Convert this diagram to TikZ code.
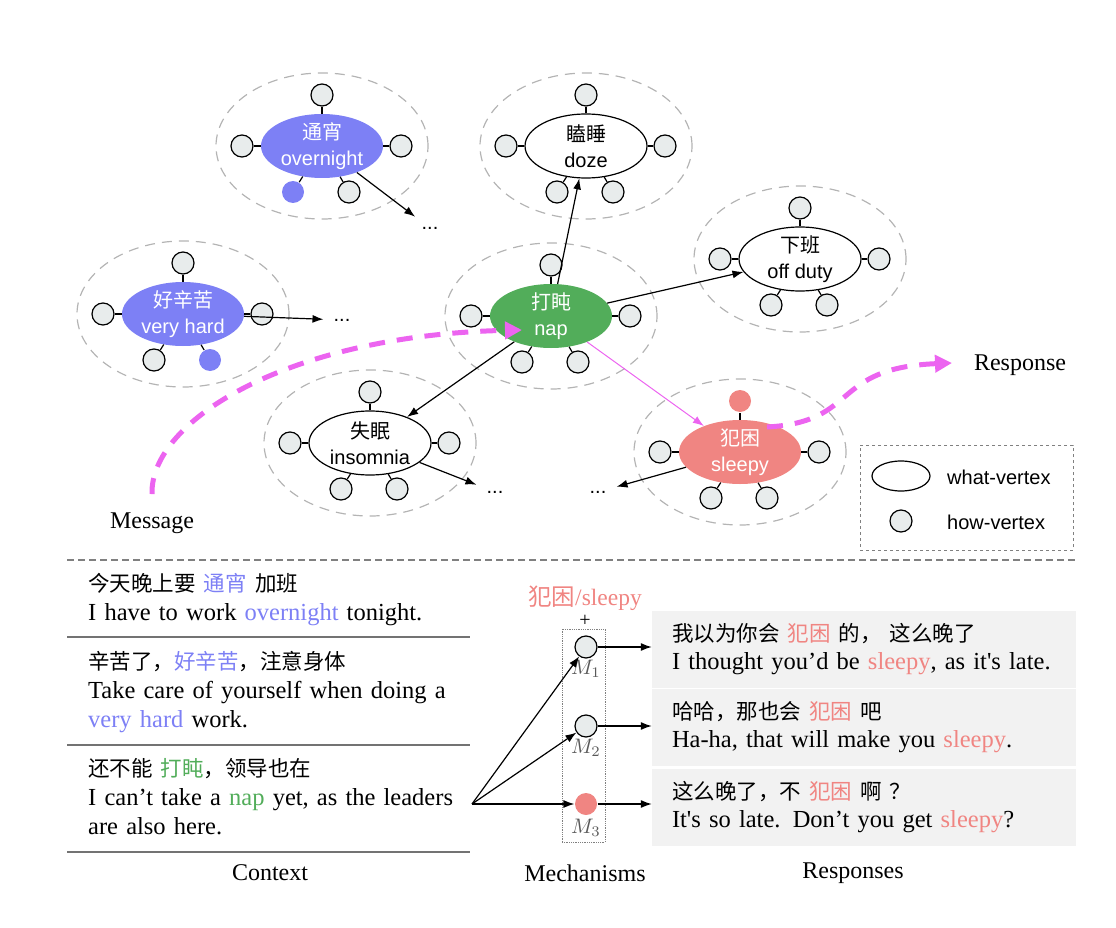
\documentclass[tikz,border=0pt]{standalone}
\usepackage{fontspec}
\setmainfont{Liberation Serif}
\setsansfont{Liberation Sans}
\newfontfamily\cjk{Noto Sans CJK SC}
\newfontfamily\rawserif{Liberation Serif}
\usetikzlibrary{shapes.geometric,arrows.meta,calc}
\definecolor{hardblue}{HTML}{7D80F5}
\definecolor{napgreen}{HTML}{52AD5A}
\definecolor{sleepred}{HTML}{F08582}
\definecolor{flowpink}{HTML}{EC64F0}
\definecolor{howgray}{HTML}{E8ECEC}
\definecolor{zonegray}{HTML}{B4B4B4}
\definecolor{respgray}{HTML}{F2F2F2}
\newcommand\zh[1]{{\cjk\fontsize{21.5}{29}\selectfont #1}}
\newcommand\sq{{\rawserif\char39}}
\newcommand\mech[1]{\scalebox{2.1}{$M_{#1}$}}

\begin{document}
\begin{tikzpicture}[
    x=1pt, y=-1pt,
    >={Latex[length=11pt,width=8pt]},
    zone/.style={ellipse, draw=zonegray, line width=1.2pt, dash pattern=on 10pt off 7pt, minimum width=212, minimum height=146},
    what/.style={ellipse, minimum width=122, minimum height=64, inner xsep=0pt, inner ysep=-3pt, align=center, font=\sffamily\fontsize{20}{26}\selectfont},
    whatplain/.style={what, draw, line width=1.2pt, fill=white},
    whatfill/.style={what, fill=#1, text=white},
    how/.style={circle, draw, line width=1.2pt, fill=howgray, minimum size=22, inner sep=0pt},
    overnight-bl/.style={fill=hardblue, draw=none},
    veryhard-br/.style={fill=hardblue, draw=none},
    sleepy-t/.style={fill=sleepred, draw=none},
    stub/.style={line width=1.2pt},
    link/.style={->, line width=1.2pt},
    flow/.style={-{Triangle[length=17pt,width=17pt]}, flowpink, line width=5pt, dash pattern=on 16pt off 12pt},
    dots/.style={font=\sffamily\fontsize{20}{20}\selectfont, inner sep=10pt},
    row/.style={anchor=west, inner sep=0pt, align=left, text width=365, font=\fontsize{24.5}{29}\selectfont},
    resp/.style={fill=respgray, minimum width=424, minimum height=77, inner xsep=20pt, inner ysep=0pt, text width=384, align=left, font=\fontsize{24.5}{28}\selectfont},
    caption/.style={font=\fontsize{24}{24}\selectfont, inner sep=0pt},
    legtext/.style={anchor=west, inner sep=0pt, font=\sffamily\fontsize{20}{20}\selectfont},
    mlab/.style={text=black!65, inner sep=0pt},
    rule/.style={black!55, line width=1.2pt}
  ]
  \useasboundingbox (0,0) rectangle (1116,928);

  \node[whatfill=hardblue] (overnight) at (322,146) {{\cjk 通宵}\\overnight};
  \node[whatplain] (doze) at (586,146) {{\cjk 瞌睡}\\doze};
  \node[whatplain] (offduty) at (800,259) {{\cjk 下班}\\off duty};
  \node[whatfill=hardblue] (veryhard) at (183,314) {{\cjk 好辛苦}\\very hard};
  \node[whatfill=napgreen] (nap) at (551,316) {{\cjk 打盹}\\nap};
  \node[whatplain] (insomnia) at (370,443) {{\cjk 失眠}\\insomnia};
  \node[whatfill=sleepred] (sleepy) at (740,452) {{\cjk 犯困}\\sleepy};

  \foreach \n in {overnight,doze,offduty,veryhard,nap,insomnia,sleepy}{
    \node[zone] (\n-zone) at (\n) {};
    \foreach \k/\dx/\dy in {t/0/-51,l/-80/0,r/79/0,bl/-29/46,br/27/46}{
      \node[how, \n-\k/.try] (\n-\k) at ($(\n)+(\dx,\dy)$) {};
      \draw[stub] (\n) -- (\n-\k);
    }
  }

  \node[dots] (dots1) at (430,228) {...};
  \node[dots] (dots2) at (342,320) {...};
  \node[dots] (dots3) at (495,492) {...};
  \node[dots] (dots4) at (598,492) {...};
  \draw[link] (overnight) -- (dots1);
  \draw[link] (veryhard) -- (dots2);
  \draw[link] (insomnia) -- (dots3);
  \draw[link] (sleepy) -- (dots4);
  \draw[link] (nap) -- (doze);
  \draw[link] (nap) -- (offduty);
  \draw[link] (nap) -- (insomnia);
  \draw[->, flowpink, line width=1pt] (nap) -- (sleepy);

  \node[caption] (msg) at (152,523) {Message};
  \node[caption] (resp-lab) at (1020,365) {Response};
  \coordinate (msg-out) at (152,494);
  \coordinate (nap-in) at (522,330);
  \coordinate (sleepy-out) at (767,427);
  \coordinate (resp-in) at (952,363);
  \draw[flow] (msg-out) .. controls (150,420) and (290,335) .. (nap-in);
  \draw[flow] (sleepy-out) .. controls (860,422) and (830,368) .. (resp-in);

  \node[draw=gray, dashed, line width=1pt, minimum width=213, minimum height=105, inner sep=0pt] (legend) at (966.5,497.5) {};
  \node[ellipse, draw, line width=1.2pt, minimum width=58, minimum height=30, inner sep=0pt] (leg-what) at (901,476) {};
  \node[how] (leg-how) at (901,521) {};
  \node[legtext] (leg-what-txt) at (947,477) {what-vertex};
  \node[legtext] (leg-how-txt) at (947,522) {how-vertex};

  \draw[gray, line width=2pt, dash pattern=on 7pt off 4pt] (67,560) -- (1075,560);

  \node[row] (c1) at (88,600) {\zh{今天晚上要 \textcolor{hardblue}{通宵} 加班}\\I have to work \textcolor{hardblue}{overnight} tonight.};
  \node[row] (c2) at (88,692) {\zh{辛苦了，\textcolor{hardblue}{好辛苦}，注意身体}\\Take care of yourself when doing a \textcolor{hardblue}{very hard} work.};
  \node[row] (c3) at (88,797) {\zh{还不能 \textcolor{napgreen}{打盹}，领导也在}\\I can’t take a \textcolor{napgreen}{nap} yet, as the leaders are also here.};
  \draw[rule] (67,637) -- (470,637);
  \draw[rule] (67,745) -- (470,745);
  \draw[rule] (67,852) -- (470,852);

  \node[text=sleepred, font=\fontsize{23.5}{24}\selectfont, inner sep=0pt] (m-word) at (585,598) {{\cjk 犯困}/sleepy};
  \node[font=\fontsize{20}{20}\selectfont, inner sep=0pt] (m-plus) at (585,621) {+};
  \node[draw=gray, densely dotted, line width=0.8pt, minimum width=43, minimum height=213, inner sep=0pt] (mbox) at (583.5,735.5) {};
  \node[how] (m1) at (586,647) {};
  \node[how] (m2) at (586,726) {};
  \node[how, fill=sleepred, draw=none] (m3) at (586,804) {};
  \node[mlab] (m1-lab) at (586,669) {\mech{1}};
  \node[mlab] (m2-lab) at (586,748) {\mech{2}};
  \node[mlab] (m3-lab) at (586,828) {\mech{3}};

  \node[resp] (r1) at (864,649) {\zh{我以为你会 \textcolor{sleepred}{犯困} 的， 这么晚了}\\I thought you’d be \textcolor{sleepred}{sleepy}, as it\sq s late.};
  \node[resp] (r2) at (864,727.5) {\zh{哈哈，那也会 \textcolor{sleepred}{犯困} 吧}\\Ha-ha, that will make you \textcolor{sleepred}{sleepy}.};
  \node[resp] (r3) at (864,807) {\zh{这么晚了，不 \textcolor{sleepred}{犯困} 啊 ？}\\It\sq s so late. Don’t you get \textcolor{sleepred}{sleepy}?};

  \coordinate (ctx) at (472,804);
  \draw[link] (ctx) -- (m1);
  \draw[link] (ctx) -- (m2);
  \draw[link] (ctx) -- (m3);
  \draw[link] (m1) -- (m1 -| r1.west);
  \draw[link] (m2) -- (m2 -| r2.west);
  \draw[link] (m3) -- (m3 -| r3.west);

  \node[caption] (ctx-cap) at (270,873) {Context};
  \node[caption] (mech-cap) at (585,873) {Mechanisms};
  \node[caption] (resp-cap) at (853,873) {Responses};
\end{tikzpicture}
\end{document}
